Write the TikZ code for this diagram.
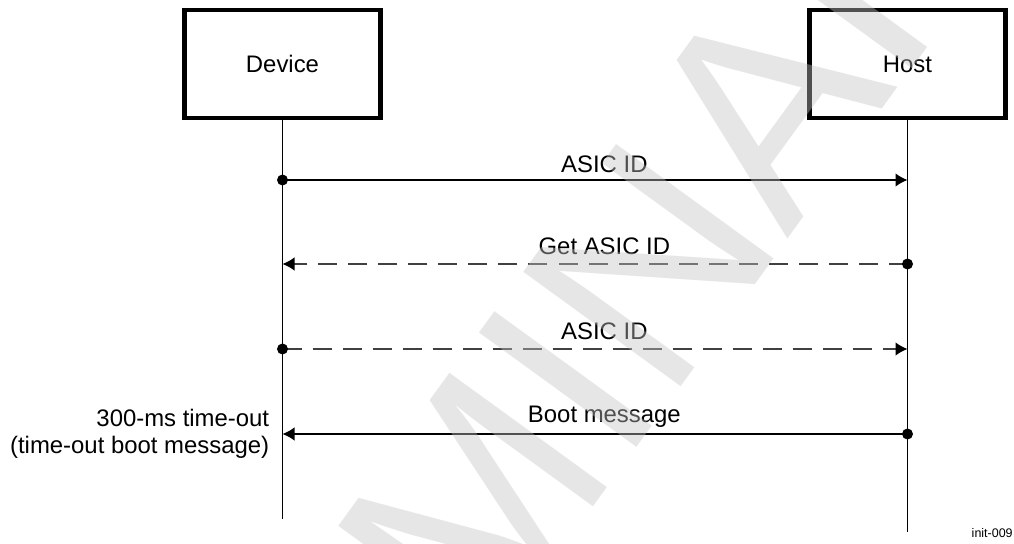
\documentclass[tikz,border=0pt]{standalone}
\usepackage{fontspec}
\setmainfont{Liberation Sans}
\usetikzlibrary{arrows.meta, positioning}
\definecolor{wmgray}{RGB}{195,195,195}
\tikzset{
  party/.style={draw, line width=2.3pt, minimum width=3.92cm, minimum height=2.16cm, inner sep=0pt},
  life/.style={line width=0.8pt},
  msg/.style={-{Latex[length=0.24cm, width=0.27cm, color=black]}, line width=0.8pt},
  reply/.style={msg, dash pattern=on 0.38cm off 0.22cm, draw=black!75},
  lbl/.style={anchor=base, inner sep=0pt, yshift=5.5pt, text=black},
  dot/.style={circle, fill=black, inner sep=0pt, minimum size=0.22cm},
  wmark/.style={anchor=base, rotate=54, inner sep=0pt, text=wmgray, text opacity=0.41,
    font=\fontsize{161pt}{161pt}\selectfont},
}

\begin{document}
\begin{tikzpicture}[every node/.style={font=\fontsize{13.6pt}{15.6pt}\selectfont}]
  \useasboundingbox (0,0) rectangle (20.28,10.88);
  % the two parties
  \node[party] (dev) at (5.65,9.6) {Device};
  \node[party] (host) at (18.15,9.6) {Host};
  % lifelines
  \coordinate (devend) at (dev.south |- 0,0.5);
  \coordinate (hostend) at (host.south |- 0,0.24);
  \draw[life] (dev.south) -- (devend);
  \draw[life] (host.south) -- (hostend);
  % message ends on the lifelines
  \coordinate (d1) at (dev |- 0,7.28);  \coordinate (h1) at (host |- 0,7.28);
  \coordinate (d2) at (dev |- 0,5.6);   \coordinate (h2) at (host |- 0,5.6);
  \coordinate (d3) at (dev |- 0,3.9);   \coordinate (h3) at (host |- 0,3.9);
  \coordinate (d4) at (dev |- 0,2.2);   \coordinate (h4) at (host |- 0,2.2);
  % messages
  \draw[msg] (d1) -- node[lbl, pos=.515, yshift=-1.5pt] {ASIC ID} (h1);
  \draw[reply] (h2) -- node[lbl, pos=.485] {Get ASIC ID} (d2);
  \draw[reply] (d3) -- node[lbl, pos=.515] {ASIC ID} (h3);
  \draw[msg] (h4) -- node[lbl, pos=.485, yshift=1pt] {Boot message} (d4);
  % sender dots
  \node[dot] (s1) at (d1) {};
  \node[dot] (s2) at (h2) {};
  \node[dot] (s3) at (d3) {};
  \node[dot] (s4) at (h4) {};
  % time-out note
  \node[anchor=east, align=right, inner sep=0pt, xshift=-0.26cm] (tout) at (d4)
    {300-ms time-out\\(time-out boot message)};
  \node[anchor=base east, inner sep=0pt, font=\fontsize{7.1pt}{8pt}\selectfont] (fig) at (20.26,0.12) {init-009};
  % watermark
  \begin{scope}
    \clip (0,0) rectangle (20.28,10.88);
    \node[wmark] (draft) at (11.29,-0.06) {PRELIMINARY};
  \end{scope}
\end{tikzpicture}
\end{document}
